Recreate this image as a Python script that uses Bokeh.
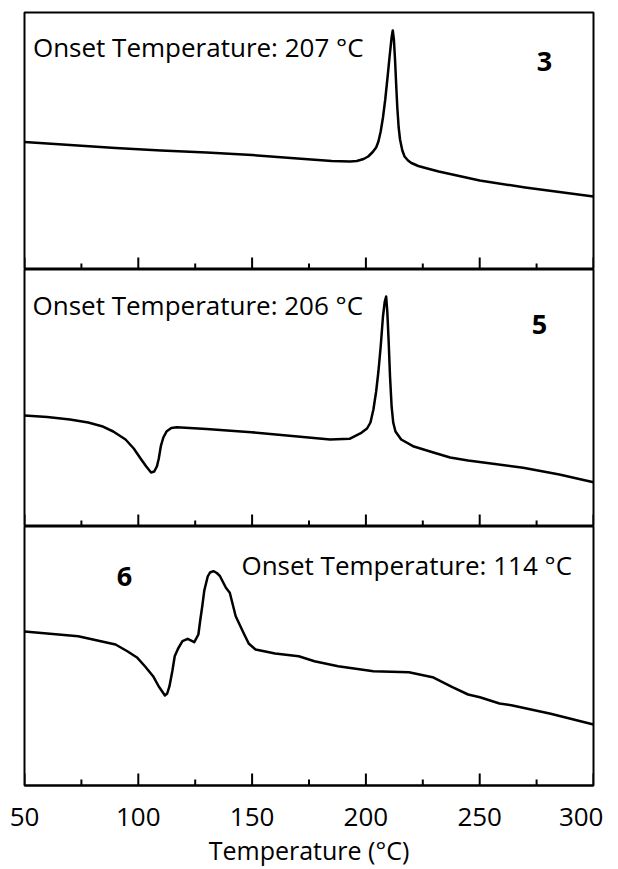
from bokeh.plotting import figure
from bokeh.layouts import column
from bokeh.models import Range1d, Label, FixedTicker
from bokeh.embed import file_html
from bokeh.resources import INLINE

# ---- data (heat flow in arbitrary units) ----
t3 = [50, 70, 90, 110, 130, 150, 170, 185, 193, 196, 199, 201, 203, 204.5, 205.5, 206.5, 207.5,
      208.5, 209.5, 210.5, 211.3, 211.8, 212.3, 212.8, 213.3, 213.8, 214.4, 215, 216, 217, 218.5,
      220, 223, 227, 232, 240, 250, 270, 300]
h3 = [127.5, 124.5, 121.5, 119, 117, 114.5, 111, 108.5, 108, 108.5, 110.5, 113, 117.5, 122, 128,
      138, 152, 170, 192, 215, 232, 239, 230, 210, 185, 162, 142, 130, 119, 113, 109,
      106.5, 103.5, 101, 98, 94, 89, 82, 73]

t5 = [50, 60, 70, 78, 84, 89, 94.4, 98, 101.3, 103.5, 105.6, 107, 108.2, 109, 109.9, 111, 112.5,
      114.5, 116.9, 130, 149.7, 170, 184.3, 192.8, 198, 200.5, 202, 203.3, 204.5, 205.5, 206.5,
      207.5, 208.3, 208.9, 209.4, 210, 210.6, 211.3, 212, 213, 215.5, 220.7, 229.3, 237, 244.9,
      255, 269.1, 285, 300]
h5 = [111, 109.5, 107, 104, 100.3, 95, 87, 78, 67, 60, 54, 55, 60.3, 68, 80.3, 89, 95.3,
      98.5, 99.3, 97.5, 94.3, 90, 87, 87.7, 93.7, 98, 104, 117, 135, 155, 180,
      210, 225, 230, 215, 185, 150, 120, 104, 95, 87, 80.3, 74.3, 69, 66,
      63, 58.7, 52, 44.3]

t6 = [50, 73.6, 90, 95, 99.6, 103, 106.5, 109, 111.7, 112.7, 113.7, 115, 116, 117.5, 119.4, 121.7,
      124.6, 126.4, 127.2, 128.1, 129, 130.5, 131.5, 133, 134.5, 135.9, 138.5, 140.2, 142.8, 146.2,
      148.5, 151.5, 160.1, 170.5, 177.4, 187.8, 203.3, 218.9, 229.3, 238, 244.9, 250.1, 258.7,
      263.9, 281.2, 300]
h6 = [154, 149.3, 141, 134.5, 127.7, 119, 109.3, 99, 90, 92, 99.3, 115, 129.3, 137, 144.3, 146.7,
      143.3, 151, 165, 179.3, 195, 209, 213, 214.3, 212.5, 209.3, 197.7, 192.7, 169.3, 152.7,
      142, 136, 132, 129.3, 124.3, 119.3, 114.3, 113.3, 108.3, 98.3, 91, 88.3, 82,
      80.3, 71.7, 61]

x_ticks = [50, 100, 150, 200, 250, 300]
x_minor = [75, 125, 175, 225, 275]
onset_texts = ["Onset Temperature: 207 \u00b0C", "Onset Temperature: 206 \u00b0C", "Onset Temperature: 114 \u00b0C"]
sample_ids = ["3", "5", "6"]

FONT = "Open Sans"
MAJOR_LEN = 12
MINOR_LEN = 6


def make_panel(t, h, frame_h, top_border, bottom_border, show_labels):
    p = figure(frame_width=569, frame_height=frame_h, output_backend="svg", toolbar_location=None,
               x_range=Range1d(50, 300), y_range=Range1d(0, frame_h),
               min_border_left=24, min_border_right=10, min_border_top=top_border,
               min_border_bottom=bottom_border)
    p.background_fill_color = "white"
    p.border_fill_color = "white"
    p.xgrid.visible = False
    p.ygrid.visible = False
    p.yaxis.visible = False
    p.outline_line_color = "black"
    p.outline_line_width = 2
    p.outline_line_alpha = 1.0
    ax = p.xaxis[0]
    if show_labels:
        ax.ticker = FixedTicker(ticks=x_ticks, minor_ticks=x_minor)
        ax.major_tick_in = 0
        ax.major_tick_out = 0
        ax.minor_tick_in = 0
        ax.minor_tick_out = 0
        ax.axis_line_width = 2
        ax.axis_line_color = "black"
        ax.major_label_text_font = FONT
        ax.major_label_text_font_size = "26px"
        ax.major_label_text_color = "black"
        ax.major_label_standoff = 22
        ax.axis_label = "Temperature (\u00b0C)"
        ax.axis_label_text_font = FONT
        ax.axis_label_text_font_size = "25px"
        ax.axis_label_text_font_style = "normal"
        ax.axis_label_text_color = "black"
        ax.axis_label_standoff = 4
    else:
        ax.visible = False
    # inward tick marks along the panel's bottom edge
    p.segment(x0=x_ticks, y0=[0] * len(x_ticks), x1=x_ticks, y1=[MAJOR_LEN] * len(x_ticks),
              line_color="black", line_width=2)
    p.segment(x0=x_minor, y0=[0] * len(x_minor), x1=x_minor, y1=[MINOR_LEN] * len(x_minor),
              line_color="black", line_width=2)
    p.line(t, h, line_color="black", line_width=2.5, line_join="round")
    return p


p1 = make_panel(t3, h3, 257, 12, 0, False)
p2 = make_panel(t5, h5, 257, 0, 0, False)
p3 = make_panel(t6, h6, 259, 0, 60, True)

lab_kw = dict(text_font=FONT, text_font_size="26px", text_color="black", text_baseline="middle")
p1.add_layout(Label(x=53.7, y=223, text=onset_texts[0], text_align="left", **lab_kw))
p2.add_layout(Label(x=53.5, y=222, text=onset_texts[1], text_align="left", **lab_kw))
p3.add_layout(Label(x=145.3, y=221, text=onset_texts[2], text_align="left", **lab_kw))

num_kw = dict(text_font=FONT, text_font_size="27px", text_color="black", text_baseline="middle",
              text_align="center", text_font_style="bold")
p1.add_layout(Label(x=278.5, y=208, text=sample_ids[0], **num_kw))
p2.add_layout(Label(x=276.3, y=202, text=sample_ids[1], **num_kw))
p3.add_layout(Label(x=93.9, y=209, text=sample_ids[2], **num_kw))

layout = column(p1, p2, p3, spacing=0)

open("out.html", "w").write(file_html(layout, INLINE))
